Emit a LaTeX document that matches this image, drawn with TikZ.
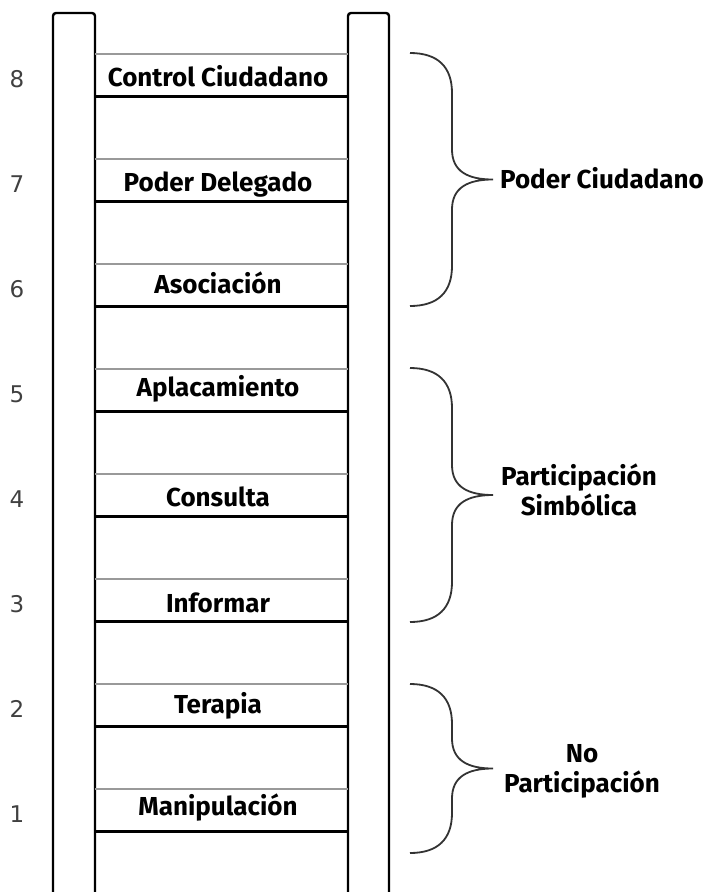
\documentclass[tikz,border=0pt]{standalone}
\usepackage{fontspec}
\setmainfont{Fira Sans}
\newfontfamily\numfont{DejaVu Sans}
\usepackage{tikz}
\usetikzlibrary{positioning}

\begin{document}
\begin{tikzpicture}[
  x=1pt, y=-1pt,
  rail/.style={draw=black, line width=2.4pt, fill=white, rounded corners=3pt},
  rungtop/.style={draw=black!40, line width=2.4pt},
  rungbot/.style={draw=black, line width=3pt},
  lbl/.style={font=\bfseries\fontsize{26}{30}\selectfont, inner sep=0pt, align=center},
  num/.style={font=\numfont\fontsize{23}{26}\selectfont, text=black!75, inner sep=0pt},
  brace/.style={draw=black!80, line width=1.8pt}
]
  \useasboundingbox (0,0) rectangle (711,892);

  % rails
  \draw[rail] (53,894) -- (53,13) -- (95,13) -- (95,894);
  \draw[rail] (348,894) -- (348,13) -- (389,13) -- (389,894);

  % rungs
  \foreach \i/\txt/\off in {1/Manipulación/26, 2/Terapia/29, 3/Informar/33, 4/Consulta/32,
                            5/Aplacamiento/27, 6/Asociación/29, 7/Poder Delegado/32, 8/Control Ciudadano/32}{
    \pgfmathsetmacro{\g}{54+105*(8-\i)}
    \draw[rungtop] (95,\g) -- (348,\g);
    \draw[rungbot] (95,\g+42) -- (348,\g+42);
    \node[lbl, anchor=base] (r\i) at (218,\g+\off) {\txt};
    \node[num, anchor=base] (n\i) at (17,\g+33) {\i};
  }

  % braces
  \foreach \a/\b in {53/306, 368/622, 684/853}{
    \pgfmathsetmacro{\m}{(\a+\b)/2}
    \draw[brace] (410,\a) .. controls (438,\a) and (452,\a+14) .. (452,\a+40)
      -- (452,\m-30) .. controls (452,\m-8) and (468,\m) .. (493,\m)
      .. controls (468,\m) and (452,\m+8) .. (452,\m+30)
      -- (452,\b-40) .. controls (452,\b-14) and (438,\b) .. (410,\b);
  }

  \node[lbl, anchor=base west] (pc) at (500,188) {Poder Ciudadano};
  \node[lbl] (ps) at (579,490) {Participación\\Simbólica};
  \node[lbl] (np) at (582,771) {No\\Participación};
\end{tikzpicture}
\end{document}
